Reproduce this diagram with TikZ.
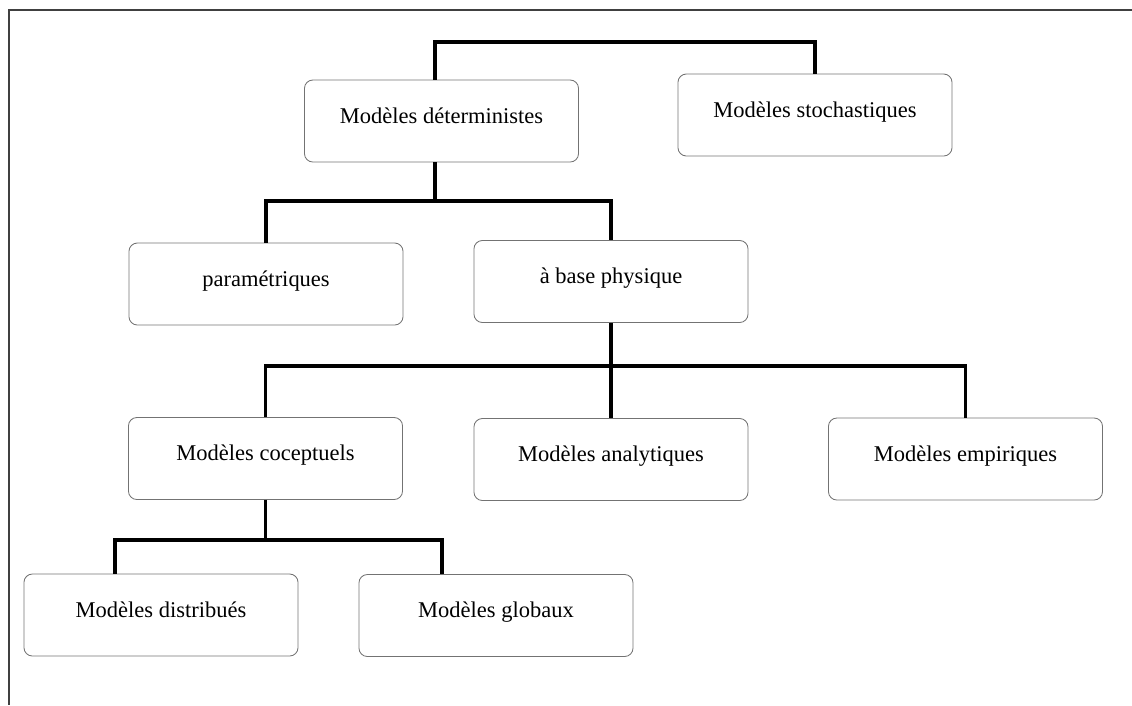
\documentclass[tikz,border=0pt]{standalone}
\usepackage{fontspec}
\setmainfont{Liberation Serif}
\begin{document}
\begin{tikzpicture}[x=0.025cm, y=-0.025cm,
  every node/.style={font=\fontsize{16}{19}\selectfont},
  boite/.style={draw=black!55, line width=0.6pt, rounded corners=6pt,
    minimum width=6.85cm, text height=1.075cm, text depth=0.975cm, inner sep=0pt},
  lien/.style={line width=2.2pt, black},
  cadre/.style={line width=1.3pt, black!75}]
  \useasboundingbox (0,0) rectangle (1132,705);
  \draw[cadre] (1132,10) -- (9,10) -- (9,705);

  \node[boite] (det) at (441.5,121) {Modèles déterministes};
  \node[boite] (stoch) at (815,115) {Modèles stochastiques};
  \node[boite] (param) at (266,284) {paramétriques};
  \node[boite] (phys) at (611,281.5) {à base physique};
  \node[boite] (cocep) at (265.5,458.5) {Modèles coceptuels};
  \node[boite] (analyt) at (611,459.5) {Modèles analytiques};
  \node[boite] (empir) at (965.5,459) {Modèles empiriques};
  \node[boite] (distrib) at (161,615) {Modèles distribués};
  \node[boite] (glob) at (496,615.5) {Modèles globaux};

  \coordinate (haut) at (815,42);
  \coordinate (n1) at (435,201);
  \coordinate (n2) at (611,366);
  \coordinate (n3) at (265.5,540);

  \draw[lien] (det.north -| n1) |- (haut) -- (stoch.north);
  \draw[lien] (det.south -| n1) -- (n1);
  \draw[lien] (param.north) |- (n1) -| (phys.north);
  \draw[lien] (phys.south) -- (analyt.north);
  \draw[lien] (cocep.north) |- (n2) -| (empir.north);
  \draw[lien] (cocep.south) -- (n3);
  \draw[lien] ([xshift=-1.15cm]distrib.north) |- (n3) -| ([xshift=-1.35cm]glob.north);
\end{tikzpicture}
\end{document}
